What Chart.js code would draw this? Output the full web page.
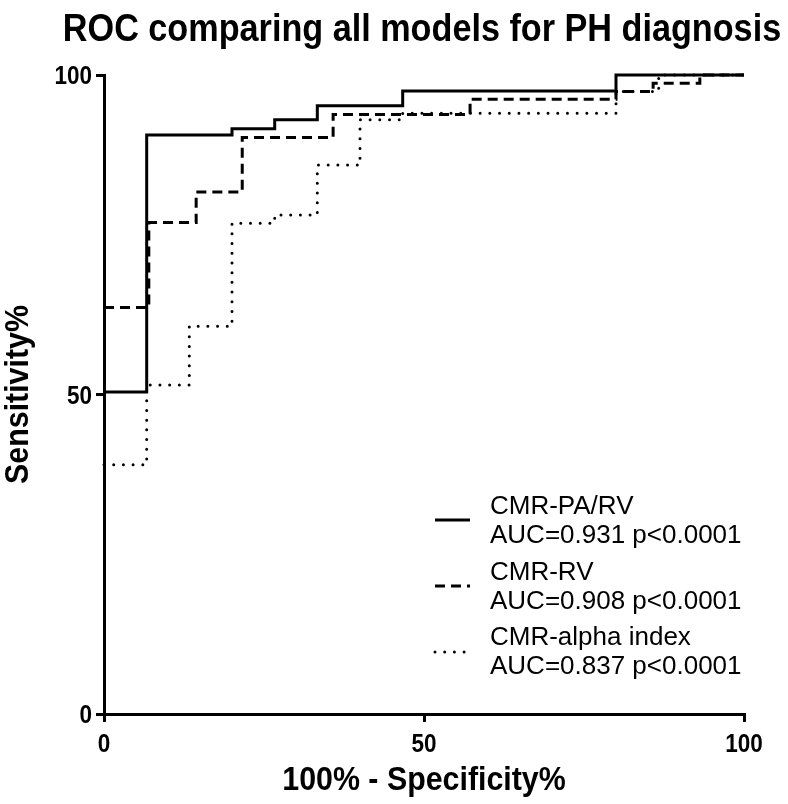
<!DOCTYPE html>
<html>
<head>
<meta charset="utf-8">
<script src="https://cdn.jsdelivr.net/npm/chart.js@4.4.1/dist/chart.umd.min.js"></script>
<style>
  html, body { margin: 0; padding: 0; background: #ffffff; }
  #wrap { width: 788px; height: 804px; position: relative; }
</style>
</head>
<body>
<div id="wrap"><canvas id="c" width="788" height="804"></canvas></div>
<script>
// ---- Data ----
const chartTitle = "ROC comparing all models for PH diagnosis";
const xAxisTitle = "100% - Specificity%";
const yAxisTitle = "Sensitivity%";
const xTickValues = [0, 50, 100];
const yTickValues = [0, 50, 100];

// CMR-PA/RV (solid)
const paRvFpr  = [0, 6.67, 20, 26.67, 33.33, 46.67, 80, 100];
const paRvSens = [50.4, 90.6, 91.6, 93.0, 95.2, 97.5, 100, 100];
// CMR-RV (dashed)
const rvFpr  = [0, 7.0, 14.4, 21.6, 35.8, 57.2, 80, 85.8, 93.1, 100];
const rvSens = [63.6, 76.9, 81.7, 90.2, 93.8, 96.2, 97.4, 98.7, 100, 100];
// CMR-alpha index (dotted)
const alphaFpr  = [0, 6.67, 13.33, 20, 26.67, 33.33, 40, 46.67, 80, 86.67, 100];
const alphaSens = [39.0, 51.5, 60.7, 76.8, 78.1, 85.9, 93.0, 94.0, 97.4, 100, 100];

const seriesNames = ["CMR-PA/RV", "CMR-RV", "CMR-alpha index"];
const seriesAuc = ["AUC=0.931 p<0.0001", "AUC=0.908 p<0.0001", "AUC=0.837 p<0.0001"];

function pts(xs, ys) { return xs.map((x, i) => ({ x: x, y: ys[i] })); }

const styles = [
  { dash: [], cap: 'butt', width: 3 },
  { dash: [10, 6], cap: 'butt', width: 3 },
  { dash: [0.001, 9.7], cap: 'round', width: 3 }
];

const datasets = [
  pts(paRvFpr, paRvSens),
  pts(rvFpr, rvSens),
  pts(alphaFpr, alphaSens)
].map((d, i) => ({
  label: seriesNames[i],
  data: d,
  showLine: true,
  stepped: true,
  borderColor: '#000',
  backgroundColor: '#000',
  borderWidth: styles[i].width,
  borderDash: styles[i].dash,
  borderCapStyle: styles[i].cap,
  pointRadius: 0,
  fill: false,
  clip: false,
  tension: 0
}));

const FONT = '"Liberation Sans", Arial, Helvetica, sans-serif';

function drawText(ctx, text, x, y, align, font, sx, rot) {
  ctx.save();
  ctx.translate(x, y);
  if (rot) ctx.rotate(rot);
  ctx.scale(sx, 1);
  ctx.font = font;
  ctx.textAlign = align;
  ctx.textBaseline = 'alphabetic';
  ctx.fillText(text, 0, 0);
  ctx.restore();
}

const textPlugin = {
  id: 'texts',
  afterDraw(chart) {
    const ctx = chart.ctx;
    const xs = chart.scales.x, ys = chart.scales.y;
    const ca = chart.chartArea;
    ctx.save();
    ctx.fillStyle = '#000';

    // Title
    drawText(ctx, chartTitle, 422, 41, 'center', 'bold 38px ' + FONT, 0.9);

    // tick labels
    const tickFont = 'bold 25px ' + FONT;
    xTickValues.forEach(v => drawText(ctx, String(v), xs.getPixelForValue(v), 752, 'center', tickFont, 0.9));
    yTickValues.forEach(v => drawText(ctx, String(v), 92, ys.getPixelForValue(v) + 9, 'right', tickFont, 0.9));

    // axis titles
    const axFont = 'bold 33px ' + FONT;
    drawText(ctx, xAxisTitle, (ca.left + ca.right) / 2, 790, 'center', axFont, 0.92);
    drawText(ctx, yAxisTitle, 28, (ca.top + ca.bottom) / 2, 'center', axFont, 0.92, -Math.PI / 2);

    // Legend
    const sampleY = [520, 586, 652];
    const line1 = [514, 580, 645];
    const line2 = [543, 609, 674];
    ctx.font = '26px ' + FONT;
    ctx.textAlign = 'left';
    chart.data.datasets.forEach((ds, i) => {
      ctx.save();
      ctx.strokeStyle = ds.borderColor;
      ctx.lineWidth = ds.borderWidth;
      ctx.setLineDash(ds.borderDash);
      ctx.lineCap = ds.borderCapStyle;
      ctx.beginPath();
      ctx.moveTo(435, sampleY[i]);
      ctx.lineTo(470, sampleY[i]);
      ctx.stroke();
      ctx.restore();
      ctx.fillText(seriesNames[i], 490, line1[i]);
      ctx.fillText(seriesAuc[i], 490, line2[i]);
    });
    ctx.restore();
  }
};

new Chart(document.getElementById('c'), {
  type: 'scatter',
  data: { datasets: datasets },
  options: {
    responsive: false,
    animation: false,
    devicePixelRatio: 1,
    layout: { padding: { left: 94, right: 44, top: 75, bottom: 80 } },
    plugins: { legend: { display: false }, title: { display: false }, tooltip: { enabled: false } },
    scales: {
      x: {
        type: 'linear', min: 0, max: 100,
        ticks: { display: false, stepSize: 50 },
        grid: { display: true, drawOnChartArea: false, drawTicks: true, tickLength: 8, lineWidth: 3, color: '#000' },
        border: { display: true, width: 3, color: '#000' },
        afterFit(s) { s.height = 10; }
      },
      y: {
        type: 'linear', min: 0, max: 100,
        ticks: { display: false, stepSize: 50 },
        grid: { display: true, drawOnChartArea: false, drawTicks: true, tickLength: 8, lineWidth: 3, color: '#000' },
        border: { display: true, width: 3, color: '#000' },
        afterFit(s) { s.width = 10; }
      }
    }
  },
  plugins: [textPlugin]
});
</script>
</body>
</html>
